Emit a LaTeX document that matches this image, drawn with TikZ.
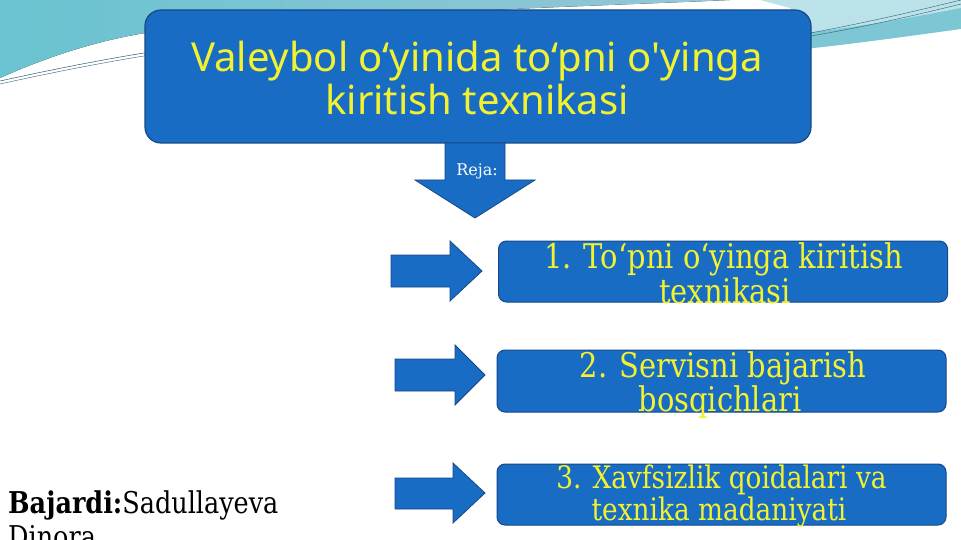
\documentclass[tikz,border=0pt]{standalone}
\usepackage{fontspec}
\setmainfont{DejaVu Serif}
\newfontfamily\titlefont{Noto Sans}
\newfontfamily\boxfont[FakeStretch=0.85]{DejaVu Serif}
\definecolor{boxblue}{RGB}{24,108,196}
\definecolor{boxedge}{RGB}{22,72,135}
\definecolor{txtyellow}{RGB}{242,242,48}
\definecolor{tealA}{RGB}{105,195,208}
\definecolor{tealB}{RGB}{150,198,214}
\definecolor{tealLight}{RGB}{188,226,233}
\definecolor{tealBand}{RGB}{125,198,212}
\definecolor{lineteal}{RGB}{45,95,115}
\tikzset{
  titlebox/.style={draw=boxedge, line width=1.2pt, fill=boxblue, rounded corners=16pt,
    minimum width=666pt, minimum height=133pt, inner sep=0pt},
  itembox/.style={draw=boxedge, line width=1pt, fill=boxblue, rounded corners=8pt,
    minimum width=449pt, minimum height=61pt, inner sep=0pt},
  titletext/.style={text=txtyellow, font=\titlefont\fontsize{40}{46}\selectfont, inner sep=0pt, anchor=base},
  itemtext/.style={text=txtyellow, font=\boxfont\fontsize{34}{40}\selectfont, inner sep=0pt, anchor=base},
  smalltext/.style={text=txtyellow, font=\boxfont\fontsize{31}{36}\selectfont, inner sep=0pt, anchor=base},
  authtext/.style={font=\boxfont\fontsize{30}{36}\selectfont, anchor=base west, inner sep=0pt},
  blockarrow/.style={draw=boxedge, line width=0.8pt, fill=boxblue, line join=miter},
}
\begin{document}
\begin{tikzpicture}[x=1pt,y=-1pt]
\useasboundingbox (0,0) rectangle (961,540);
\fill[white] (0,0) rectangle (961,540);
% background swooshes
\fill[left color=tealA, right color=tealB] (0,0) -- (730,0) .. controls (600,6) and (320,14) .. (145,33) .. controls (90,42) and (40,60) .. (0,78) -- cycle;
\draw[lineteal, line width=0.5pt] (0,81) .. controls (50,70) and (100,60) .. (150,52);
\draw[lineteal, line width=0.4pt] (0,84) .. controls (50,73) and (100,63) .. (150,55);
\fill[tealLight] (760,0) -- (961,0) -- (961,10) .. controls (900,22) and (850,29) .. (805,34) -- (790,8) -- cycle;
\fill[tealBand] (961,8) .. controls (900,20) and (850,28) .. (805,33) -- (805,49) .. controls (860,43) and (910,36) .. (961,29) -- cycle;
\draw[lineteal, line width=0.4pt] (805,34) .. controls (870,22) and (920,10) .. (961,0);
\draw[lineteal, line width=0.4pt] (805,37) .. controls (870,26) and (920,14) .. (961,4);
% title
\node[titlebox] (title) at (478,76.5) {};
\node[titletext] (t1) at (477,72) {Valeybol o‘yinida to‘pni o'yinga};
\node[titletext] (t2) at (477,115) {kiritish texnikasi};
% down arrow
\draw[blockarrow] (445,143) -- (505,143) -- (505,180) -- (535,180) -- (475,218) -- (415,180) -- (445,180) -- cycle;
\node[text=white, font=\rmfamily\fontsize{16}{18}\selectfont, inner sep=0pt] (reja) at (477,171) {Reja:};
% right arrows
\draw[blockarrow] (391,255) -- (450,255) -- (450,241) -- (482,271) -- (450,301) -- (450,287) -- (391,287) -- cycle;
\draw[blockarrow] (395,359) -- (455,359) -- (455,345) -- (485,375) -- (455,405) -- (455,391) -- (395,391) -- cycle;
\draw[blockarrow] (395,478) -- (453,478) -- (453,463) -- (485,493) -- (453,523) -- (453,509) -- (395,509) -- cycle;
% item boxes
\node[itembox] (b1) at (723,271.5) {};
\node[itembox, minimum height=62pt] (b2) at (721.5,381) {};
\node[itembox] (b3) at (721.5,494.5) {};
\node[itemtext] (b1a) at (723.5,268) {1. To‘pni o‘yinga kiritish};
\node[itemtext] (b1b) at (725,303) {texnikasi};
\node[itemtext] (b2a) at (723,377) {2. Servisni bajarish};
\node[itemtext] (b2b) at (720,411) {bosqichlari};
\node[smalltext] (b3a) at (721.5,488) {3. Xavfsizlik qoidalari va};
\node[smalltext] (b3b) at (719,520) {texnika madaniyati};
% author
\node[authtext] (auth1) at (8,513) {\textbf{Bajardi:}Sadullayeva};
\node[authtext] (auth2) at (8,547) {Dinora};
\end{tikzpicture}
\end{document}
